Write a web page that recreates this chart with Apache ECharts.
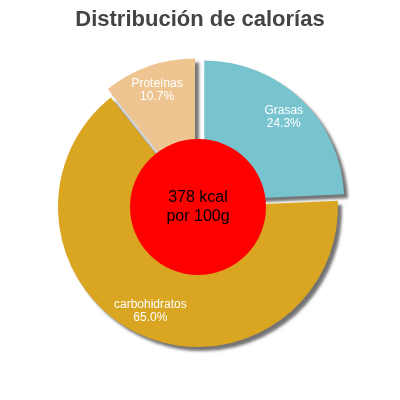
<!DOCTYPE html>
<html><head><meta charset="utf-8">
<script src="https://cdn.jsdelivr.net/npm/echarts@6/dist/echarts.min.js"></script>
<style>html,body{margin:0;padding:0;background:#fff}#c{width:400px;height:400px}</style>
</head><body><div id="c"></div>
<script>
const categories = ['Grasas', 'carbohidratos', 'Proteínas'];
const values = [24.3, 65.0, 10.7];
const colors = ['#77c4cf', '#daa520', '#eec591'];
const selectedFlags = [true, false, true];
const centerText = '378 kcal\npor 100g';

const center = ['198', '207'];
const mk = (withStyle) => categories.map((c, i) => ({
  name: c, value: values[i], selected: selectedFlags[i],
  itemStyle: withStyle ? {color: colors[i]} : {color: 'transparent'}
}));
const chart = echarts.init(document.getElementById('c'));
chart.setOption({
  animation: false,
  title: {text: 'Distribución de calorías', left: 'center', top: 4,
    textStyle: {fontFamily: 'Liberation Sans, Arial', fontSize: 22, fontWeight: 'bold', color: '#444'}},
  series: [
    {type: 'pie', center: center, radius: [0, 140], startAngle: 90, clockwise: true,
     selectedMode: 'multiple', selectedOffset: 9, data: mk(true),
     itemStyle: {shadowColor: 'rgba(0,0,0,0.55)', shadowOffsetX: 4, shadowOffsetY: 4, shadowBlur: 3},
     label: {show: false}, labelLine: {show: false}, emphasis: {disabled: true}},
    {type: 'pie', center: center, radius: [88, 136], startAngle: 90, clockwise: true,
     selectedMode: 'multiple', selectedOffset: 9, data: mk(false), silent: true, z: 5,
     label: {show: true, position: 'inside', formatter: p => p.name + '\n' + p.value.toFixed(1) + '%',
       color: '#fff', fontSize: 12, fontFamily: 'Liberation Sans, Arial', align: 'left', lineHeight: 13},
     labelLine: {show: false}, emphasis: {disabled: true}},
    {type: 'pie', center: center, radius: [0, 68], silent: true, z: 10,
     data: [{name: 'c', value: 1, itemStyle: {color: '#ff0000'}}],
     label: {show: true, position: 'center', formatter: centerText, color: '#000', fontSize: 16,
       fontFamily: 'Liberation Sans, Arial', lineHeight: 19},
     labelLine: {show: false}, emphasis: {disabled: true}}
  ]
});
</script></body></html>
